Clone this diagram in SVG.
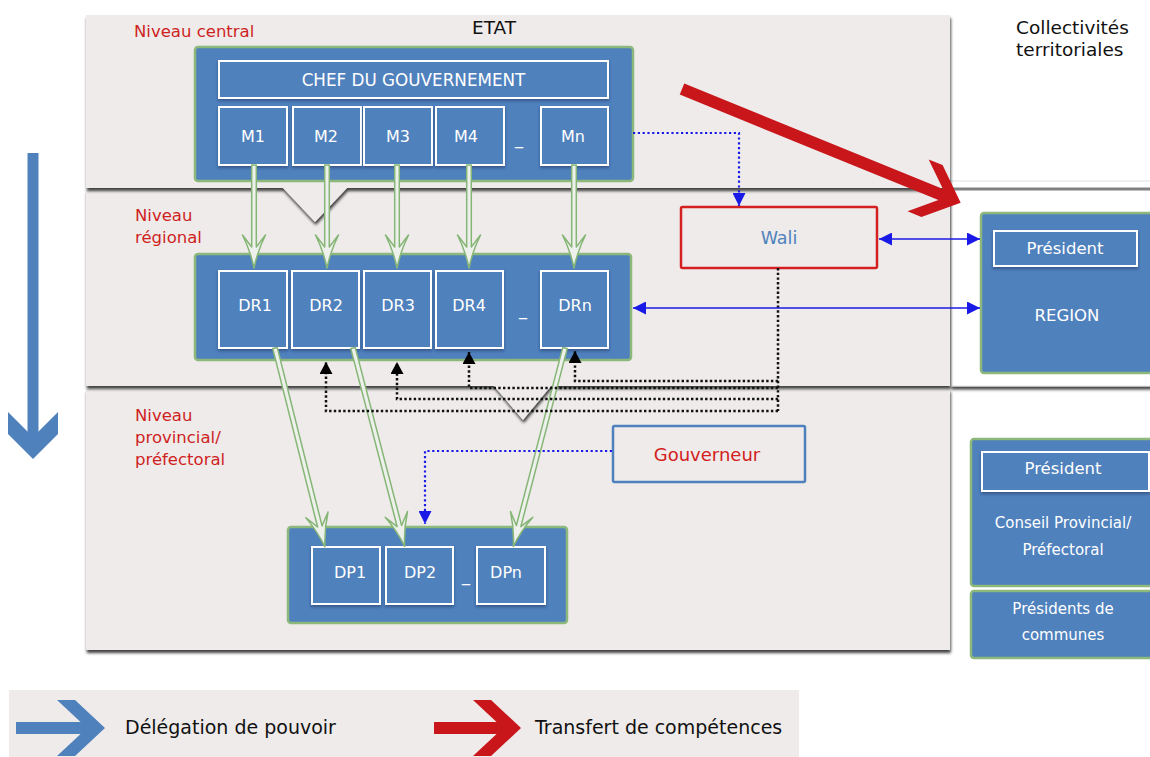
<svg xmlns="http://www.w3.org/2000/svg" xmlns:xlink="http://www.w3.org/1999/xlink" width="1150" height="757" viewBox="0 0 1150 757">
<style>
text{font-family:"DejaVu Sans",Verdana,sans-serif}
.red{fill:#cf1f1f;font-size:16.5px}
.wt{fill:#fff;text-anchor:middle}
.s16{font-size:16px}
.s165{font-size:16.5px}
.s15{font-size:15px}
.outer{fill:#4f81bd;stroke:#8cb87b;stroke-width:2.5}
.inner{fill:#4f81bd;stroke:#fff;stroke-width:2}
.band{fill:#eeebea}
.ga{fill:#eef0ec;stroke:#86b676;stroke-width:1.5;stroke-linejoin:round}
.kdot{fill:none;stroke:#111;stroke-width:2.5;stroke-dasharray:2.4 2.3}
.bdot{fill:none;stroke:#1a1ae6;stroke-width:2.2;stroke-dasharray:2.2 2.6}
.bline{fill:none;stroke:#1a1ae6;stroke-width:1.7}
</style>
<defs>
<filter id="sh" x="-5%" y="-5%" width="110%" height="120%"><feDropShadow dx="0.8" dy="3" stdDeviation="1.4" flood-color="#000" flood-opacity="0.75"/></filter>
<filter id="ish" x="-10%" y="-10%" width="120%" height="130%"><feDropShadow dx="0" dy="2" stdDeviation="1.5" flood-color="#14284a" flood-opacity="0.45"/></filter>
<marker id="mk-k" viewBox="0 0 12 13" refX="12" refY="6.5" markerWidth="12" markerHeight="13" markerUnits="userSpaceOnUse" orient="auto"><path d="M0,0 L12,6.5 L0,13 Z" fill="#000"/></marker>
<marker id="mk-b" viewBox="0 0 13 13" refX="13" refY="6.5" markerWidth="13" markerHeight="13" markerUnits="userSpaceOnUse" orient="auto-start-reverse"><path d="M0,0 L13,6.5 L0,13 Z" fill="#1a1ae6"/></marker>
<path id="gv" class="ga" d="M-2.3,0 L-2.3,82 L-11.5,70 Q-3.5,86 0,103 Q3.5,86 11.5,70 L2.3,82 L2.3,0 Z"/>
<path id="gd" class="ga" d="M-2.3,0 L-2.3,184 L-11.5,172 Q-3.5,188 0,205 Q3.5,188 11.5,172 L2.3,184 L2.3,0 Z"/>
</defs>

<rect x="0" y="0" width="1150" height="757" fill="#fff"/>

<!-- bands -->
<rect class="band" x="86" y="389" width="864" height="261" filter="url(#sh)"/>
<rect x="951" y="181" width="215" height="205" fill="#fff" stroke="#e2e2e2" stroke-width="1" filter="url(#sh)"/>
<path class="band" d="M86,190 H950 V386 H551 L523,420 L494,386 H86 Z" filter="url(#sh)"/>
<path class="band" d="M86,15 H950 V188 H347 L315,222 L283,188 H86 Z" filter="url(#sh)"/>
<rect x="950" y="187.5" width="200" height="3" fill="#808080"/>

<text x="134" y="37" class="red">Niveau central</text>
<text x="494" y="34" font-size="18.5" text-anchor="middle" fill="#111">ETAT</text>
<text x="135" y="221" class="red">Niveau</text>
<text x="135" y="243" class="red">régional</text>
<text x="135" y="421" class="red">Niveau</text>
<text x="135" y="443" class="red">provincial/</text>
<text x="135" y="465" class="red">préfectoral</text>
<text x="1016" y="34" font-size="18.5" fill="#111">Collectivités</text>
<text x="1016" y="56" font-size="18.5" fill="#111">territoriales</text>

<!-- left arrow -->
<g fill="#4f81bd">
<rect x="27.5" y="153" width="11" height="287"/>
<polygon points="8,412 33,437 58,412 58,434 33,459 8,434"/>
</g>

<!-- legend -->
<rect class="band" x="9" y="690" width="790" height="70"/>
<g fill="#4f81bd">
<rect x="16" y="722" width="72" height="12"/>
<polygon points="57,700 75,700 105,728 75,756 57,756 87,728"/>
</g>
<g fill="#c8161a">
<rect x="434" y="722" width="70" height="12"/>
<polygon points="473,700 491,700 521,728 491,756 473,756 503,728"/>
</g>
<text x="125" y="734" font-size="19" fill="#111">Délégation de pouvoir</text>
<text x="535" y="734" font-size="19" fill="#111">Transfert de compétences</text>

<!-- nodes -->
<g id="central">
<rect class="outer" x="195" y="47" width="438" height="134" rx="3"/>
<rect class="inner" x="219" y="61" width="389" height="37" filter="url(#ish)"/>
<text x="413.5" y="86" class="wt" font-size="16.8">CHEF DU GOUVERNEMENT</text>
<text x="519" y="144" class="wt s16">_</text>
</g>
<g id="M1"><rect class="inner" x="219" y="107" width="68" height="58" filter="url(#ish)"/><text x="253" y="142" class="wt s16">M1</text></g>
<g id="M2"><rect class="inner" x="293" y="107" width="68" height="58" filter="url(#ish)"/><text x="326" y="142" class="wt s16">M2</text></g>
<g id="M3"><rect class="inner" x="364" y="107" width="68" height="58" filter="url(#ish)"/><text x="398" y="142" class="wt s16">M3</text></g>
<g id="M4"><rect class="inner" x="436" y="107" width="68" height="58" filter="url(#ish)"/><text x="466" y="142" class="wt s16">M4</text></g>
<g id="Mn"><rect class="inner" x="541" y="107" width="67" height="58" filter="url(#ish)"/><text x="573" y="142" class="wt s16">Mn</text></g>

<g id="regional">
<rect class="outer" x="195" y="254" width="436" height="106" rx="3"/>
<text x="523" y="315" class="wt s16">_</text>
</g>
<g id="DR1"><rect class="inner" x="219" y="271" width="68" height="77" filter="url(#ish)"/><text x="255" y="311" class="wt s16">DR1</text></g>
<g id="DR2"><rect class="inner" x="292" y="271" width="67" height="77" filter="url(#ish)"/><text x="326" y="311" class="wt s16">DR2</text></g>
<g id="DR3"><rect class="inner" x="364" y="271" width="67" height="77" filter="url(#ish)"/><text x="398" y="311" class="wt s16">DR3</text></g>
<g id="DR4"><rect class="inner" x="436" y="271" width="67" height="77" filter="url(#ish)"/><text x="469" y="311" class="wt s16">DR4</text></g>
<g id="DRn"><rect class="inner" x="541" y="271" width="67" height="77" filter="url(#ish)"/><text x="575" y="311" class="wt s16">DRn</text></g>

<g id="provincial">
<rect class="outer" x="288" y="527" width="279" height="96" rx="3"/>
<text x="466" y="581" class="wt s16">_</text>
</g>
<g id="DP1"><rect class="inner" x="312" y="547" width="68" height="57" filter="url(#ish)"/><text x="350" y="578" class="wt s16">DP1</text></g>
<g id="DP2"><rect class="inner" x="386" y="547" width="67" height="57" filter="url(#ish)"/><text x="420" y="578" class="wt s16">DP2</text></g>
<g id="DPn"><rect class="inner" x="477" y="547" width="68" height="57" filter="url(#ish)"/><text x="506" y="578" class="wt s16">DPn</text></g>

<g id="wali">
<rect x="681" y="207" width="196" height="61" fill="#eeebea" stroke="#d42020" stroke-width="2.5" rx="1.5"/>
<text x="779" y="244" font-size="17.5" text-anchor="middle" fill="#4f81bd">Wali</text>
</g>
<g id="gouverneur">
<rect x="613" y="426" width="192" height="56" fill="#eeebea" stroke="#4f81bd" stroke-width="2.5" rx="1.5"/>
<text x="707" y="461" font-size="18" text-anchor="middle" fill="#d42020">Gouverneur</text>
</g>
<g id="region">
<rect class="outer" x="981" y="213" width="190" height="160" rx="3"/>
<rect class="inner" x="994" y="231" width="143" height="35" filter="url(#ish)"/>
<text x="1065" y="254" class="wt s165">Président</text>
<text x="1067" y="321" class="wt s165">REGION</text>
</g>
<g id="conseil">
<rect class="outer" x="971" y="439" width="200" height="147" rx="3"/>
<rect class="inner" x="982" y="452" width="167" height="39" filter="url(#ish)"/>
<text x="1063" y="474" class="wt s165">Président</text>
<text x="1063" y="528" class="wt s15">Conseil Provincial/</text>
<text x="1063" y="555" class="wt s15">Préfectoral</text>
</g>
<g id="communes">
<rect class="outer" x="971" y="591" width="200" height="67" rx="3"/>
<text x="1063" y="614" class="wt s15">Présidents de</text>
<text x="1063" y="640" class="wt s15">communes</text>
</g>

<!-- connectors -->
<g id="connectors">
<use xlink:href="#gv" transform="translate(254,165)"/>
<use xlink:href="#gv" transform="translate(327,165)"/>
<use xlink:href="#gv" transform="translate(397,165)"/>
<use xlink:href="#gv" transform="translate(469,165)"/>
<use xlink:href="#gv" transform="translate(574,165)"/>
<use xlink:href="#gd" transform="translate(275,348) rotate(-14.1)"/>
<use xlink:href="#gd" transform="translate(353,348) rotate(-14.6)"/>
<use xlink:href="#gd" transform="translate(565,348) rotate(14.6)"/>
<path class="kdot" d="M778,268 V411"/>
<path class="kdot" d="M778,381 H575 V351" marker-end="url(#mk-k)"/>
<path class="kdot" d="M778,388 H469 V352" marker-end="url(#mk-k)"/>
<path class="kdot" d="M778,399 H397 V362" marker-end="url(#mk-k)"/>
<path class="kdot" d="M778,411 H326 V362" marker-end="url(#mk-k)"/>
<path class="bdot" d="M633,133 H739 V206" marker-end="url(#mk-b)"/>
<path class="bdot" d="M612,451 H425 V524" marker-end="url(#mk-b)"/>
<path class="bline" d="M879,239 H980" marker-start="url(#mk-b)" marker-end="url(#mk-b)"/>
<path class="bline" d="M633,308 H980" marker-start="url(#mk-b)" marker-end="url(#mk-b)"/>
<polygon fill="#c8161a" transform="translate(682,89) rotate(22.2)" points="0,-6 279.4,-6 255,-28 270,-28 301,0 270,28 255,28 279.4,6 0,6"/>
</g>
</svg>
